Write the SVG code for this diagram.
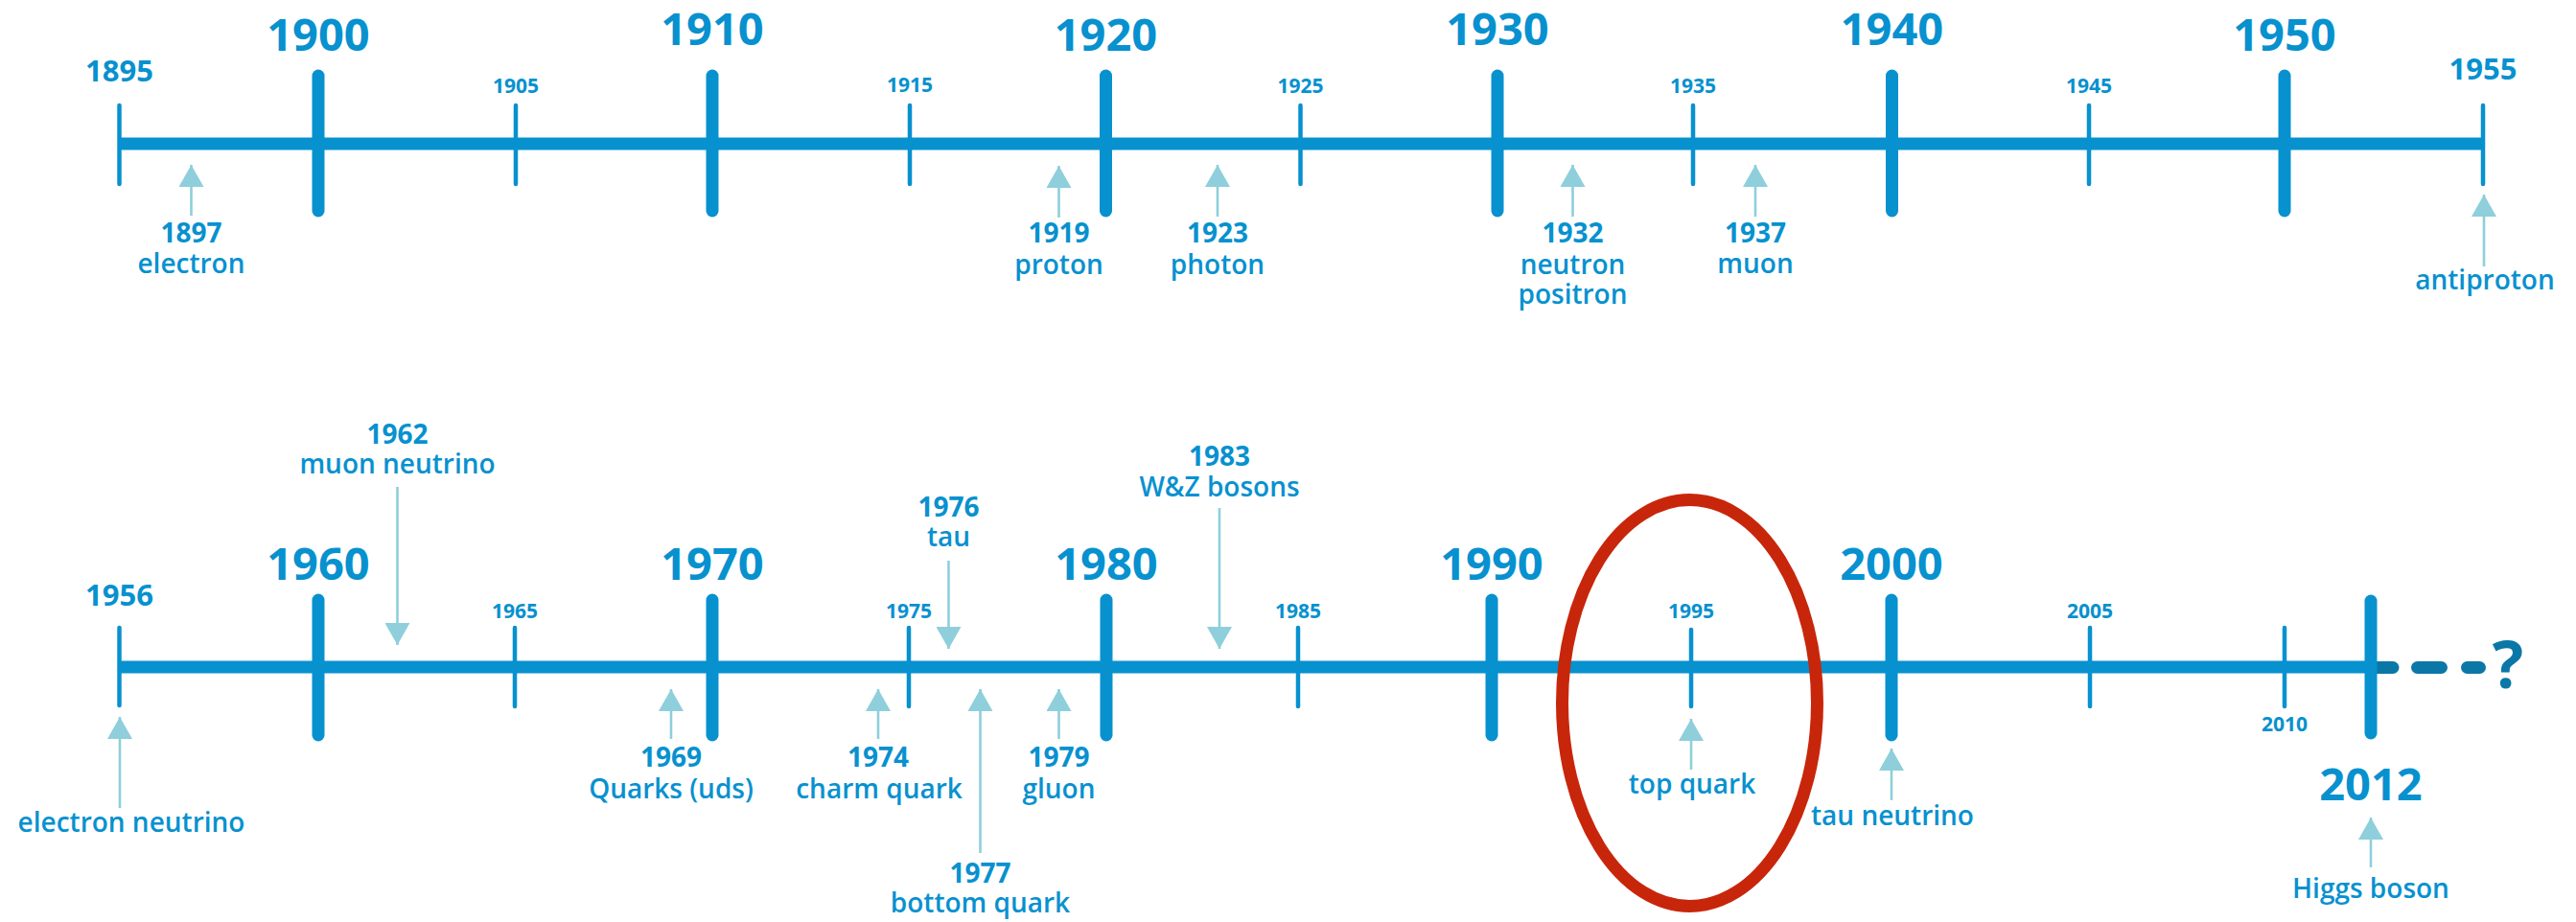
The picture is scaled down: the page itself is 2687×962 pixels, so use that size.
<svg xmlns="http://www.w3.org/2000/svg" width="2687" height="962" viewBox="0 0 2687 962">
<defs>
<style>
.axis{stroke:#0791cf;stroke-width:13;fill:none}
.major{stroke:#0791cf;stroke-width:13;stroke-linecap:round}
.minor{stroke:#0791cf;stroke-width:4.5;stroke-linecap:round}
.dash{stroke:#0b77a7;stroke-width:13;stroke-linecap:round}
.big{font-family:"Open Sans","Liberation Sans",sans-serif;font-weight:700;font-size:47px;fill:#0791cf;text-anchor:middle}
.end{font-family:"Open Sans","Liberation Sans",sans-serif;font-weight:700;font-size:31px;fill:#0791cf;text-anchor:middle}
.small{font-family:"Open Sans","Liberation Sans",sans-serif;font-weight:700;font-size:21px;fill:#0791cf;text-anchor:middle}
.yr{font-family:"Open Sans","Liberation Sans",sans-serif;font-weight:700;font-size:28px;fill:#0791cf;text-anchor:middle}
.nm{font-family:"Open Sans","Liberation Sans",sans-serif;font-weight:600;font-size:28px;fill:#0791cf;text-anchor:middle}
.q{font-family:"Open Sans","Liberation Sans",sans-serif;font-weight:700;font-size:68px;fill:#0b77a7;text-anchor:middle}
.arr{stroke:#8ecfdb;stroke-width:2.6;fill:none;marker-end:url(#ah)}
</style>
<marker id="ah" viewBox="0 0 23 26" refX="23" refY="13" markerWidth="23" markerHeight="26" markerUnits="userSpaceOnUse" orient="auto">
<path d="M0,0 L23,13 L0,26 Z" fill="#8ecfdb"/>
</marker>
</defs>
<rect width="2687" height="962" fill="#ffffff"/>

<g id="timeline-top">
<line class="axis" x1="124.5" y1="150" x2="2590" y2="150"/>
<line class="minor" x1="124.5" y1="110" x2="124.5" y2="192"/>
<line class="major" x1="332" y1="79" x2="332" y2="220"/>
<line class="minor" x1="538" y1="110" x2="538" y2="192"/>
<line class="major" x1="743" y1="79" x2="743" y2="220"/>
<line class="minor" x1="949" y1="110" x2="949" y2="192"/>
<line class="major" x1="1153.5" y1="79" x2="1153.5" y2="220"/>
<line class="minor" x1="1356.5" y1="110" x2="1356.5" y2="192"/>
<line class="major" x1="1562" y1="79" x2="1562" y2="220"/>
<line class="minor" x1="1766" y1="110" x2="1766" y2="192"/>
<line class="major" x1="1973.5" y1="79" x2="1973.5" y2="220"/>
<line class="minor" x1="2179" y1="110" x2="2179" y2="192"/>
<line class="major" x1="2383" y1="79" x2="2383" y2="220"/>
<line class="minor" x1="2590" y1="110" x2="2590" y2="192"/>
<text class="end" x="124.5" y="85">1895</text>
<text class="big" x="332" y="53">1900</text>
<text class="small" x="538" y="97">1905</text>
<text class="big" x="743" y="47">1910</text>
<text class="small" x="949" y="96">1915</text>
<text class="big" x="1153.5" y="53">1920</text>
<text class="small" x="1356.5" y="97">1925</text>
<text class="big" x="1562" y="47">1930</text>
<text class="small" x="1766" y="97">1935</text>
<text class="big" x="1973.5" y="47">1940</text>
<text class="small" x="2179" y="97">1945</text>
<text class="big" x="2383" y="53">1950</text>
<text class="end" x="2590" y="83">1955</text>
</g>

<g id="timeline-bottom">
<line class="axis" x1="124.5" y1="696" x2="2473" y2="696"/>
<line class="dash" x1="2478" y1="696.5" x2="2496" y2="696.5"/>
<line class="dash" x1="2521.5" y1="696.5" x2="2546.5" y2="696.5"/>
<line class="dash" x1="2573.5" y1="696.5" x2="2586.5" y2="696.5"/>
<line class="minor" x1="124.5" y1="655" x2="124.5" y2="736"/>
<line class="major" x1="332" y1="626" x2="332" y2="767"/>
<line class="minor" x1="537" y1="655" x2="537" y2="737"/>
<line class="major" x1="743" y1="626" x2="743" y2="767"/>
<line class="minor" x1="948" y1="655" x2="948" y2="737"/>
<line class="major" x1="1154" y1="626" x2="1154" y2="767"/>
<line class="minor" x1="1354" y1="655" x2="1354" y2="737"/>
<line class="major" x1="1556" y1="626" x2="1556" y2="767"/>
<line class="minor" x1="1764" y1="657" x2="1764" y2="737"/>
<line class="major" x1="1973" y1="626" x2="1973" y2="767"/>
<line class="minor" x1="2180" y1="655" x2="2180" y2="737"/>
<line class="minor" x1="2383" y1="655" x2="2383" y2="737"/>
<line class="major" x1="2473" y1="627" x2="2473" y2="765"/>
<text class="end" x="124.5" y="632">1956</text>
<text class="big" x="332" y="605">1960</text>
<text class="small" x="537" y="645">1965</text>
<text class="big" x="743" y="605">1970</text>
<text class="small" x="948" y="645">1975</text>
<text class="big" x="1154" y="605">1980</text>
<text class="small" x="1354" y="645">1985</text>
<text class="big" x="1556" y="605">1990</text>
<text class="small" x="1764" y="645">1995</text>
<text class="big" x="1973" y="605">2000</text>
<text class="small" x="2180" y="645">2005</text>
<text class="small" x="2383" y="763">2010</text>
<text class="big" x="2473" y="835">2012</text>
<text class="q" x="2616" y="718">?</text>
</g>

<g id="connectors">
<line class="arr" x1="199.5" y1="225" x2="199.5" y2="172"/>
<line class="arr" x1="1104.5" y1="227" x2="1104.5" y2="173"/>
<line class="arr" x1="1270" y1="226" x2="1270" y2="172"/>
<line class="arr" x1="1640.5" y1="226" x2="1640.5" y2="172"/>
<line class="arr" x1="1831" y1="226" x2="1831" y2="172"/>
<line class="arr" x1="2591" y1="278" x2="2591" y2="203"/>
<line class="arr" x1="125" y1="843" x2="125" y2="748"/>
<line class="arr" x1="414.5" y1="508" x2="414.5" y2="673"/>
<line class="arr" x1="700" y1="771" x2="700" y2="719"/>
<line class="arr" x1="916" y1="771" x2="916" y2="719"/>
<line class="arr" x1="989.5" y1="585" x2="989.5" y2="677"/>
<line class="arr" x1="1022.5" y1="890" x2="1022.5" y2="719"/>
<line class="arr" x1="1104.5" y1="771" x2="1104.5" y2="719"/>
<line class="arr" x1="1272" y1="530" x2="1272" y2="677"/>
<line class="arr" x1="1764" y1="803" x2="1764" y2="750"/>
<line class="arr" x1="1973" y1="835" x2="1973" y2="781"/>
<line class="arr" x1="2473" y1="905" x2="2473" y2="853"/>
</g>

<g id="ev-1897"><text class="yr" x="199.5" y="253">1897</text><text class="nm" x="199.5" y="285">electron</text></g>
<g id="ev-1919"><text class="yr" x="1104.5" y="253">1919</text><text class="nm" x="1104.5" y="286">proton</text></g>
<g id="ev-1923"><text class="yr" x="1270" y="253">1923</text><text class="nm" x="1270" y="286">photon</text></g>
<g id="ev-1932"><text class="yr" x="1640.5" y="253">1932</text><text class="nm" x="1640.5" y="286">neutron</text><text class="nm" x="1640.5" y="317">positron</text></g>
<g id="ev-1937"><text class="yr" x="1831" y="253">1937</text><text class="nm" x="1831" y="285">muon</text></g>
<g id="ev-1955"><text class="nm" x="2592" y="302">antiproton</text></g>
<g id="ev-1956"><text class="nm" x="137" y="868">electron neutrino</text></g>
<g id="ev-1962"><text class="yr" x="414.5" y="463">1962</text><text class="nm" x="414.5" y="494">muon neutrino</text></g>
<g id="ev-1969"><text class="yr" x="700" y="800">1969</text><text class="nm" x="700" y="833">Quarks (uds)</text></g>
<g id="ev-1974"><text class="yr" x="916" y="800">1974</text><text class="nm" x="917" y="833">charm quark</text></g>
<g id="ev-1976"><text class="yr" x="989.5" y="539">1976</text><text class="nm" x="989.5" y="570">tau</text></g>
<g id="ev-1977"><text class="yr" x="1022.5" y="921">1977</text><text class="nm" x="1022.5" y="952">bottom quark</text></g>
<g id="ev-1979"><text class="yr" x="1104.5" y="800">1979</text><text class="nm" x="1104.5" y="833">gluon</text></g>
<g id="ev-1983"><text class="yr" x="1272" y="486">1983</text><text class="nm" x="1272" y="518">W&amp;Z bosons</text></g>
<g id="ev-1995"><text class="nm" x="1765" y="828">top quark</text></g>
<g id="ev-2000"><text class="nm" x="1974" y="861">tau neutrino</text></g>
<g id="ev-2012"><text class="nm" x="2473" y="937">Higgs boson</text></g>

<g id="highlight">
<ellipse cx="1762.5" cy="733.5" rx="133" ry="212" fill="none" stroke="#c8260b" stroke-width="13"/>
</g>
</svg>
